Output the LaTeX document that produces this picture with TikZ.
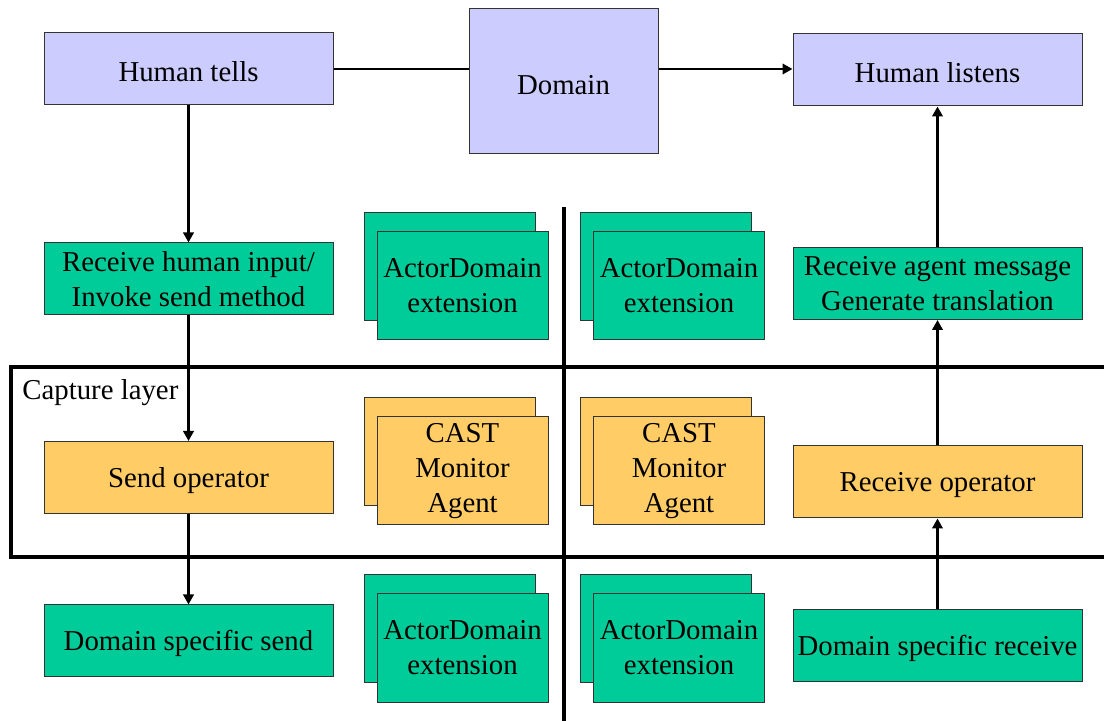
\documentclass[tikz,border=0pt]{standalone}
\usepackage{fontspec}
\setmainfont{Liberation Serif}
\usetikzlibrary{arrows.meta}
\definecolor{lav}{HTML}{CCCCFF}
\definecolor{teal}{HTML}{00CC99}
\definecolor{gold}{HTML}{FFCC66}
\definecolor{edge}{HTML}{333333}
\begin{document}
\begin{tikzpicture}[x=0.5pt,y=-0.5pt,
  box/.style={draw=edge,line width=0.5pt,inner sep=0pt,align=center,
    font=\fontsize{14.4}{17.5}\selectfont,
    execute at begin node=\rule{0pt}{13pt}},
  wide/.style={box,minimum width=144.5pt,minimum height=36pt},
  card/.style={box,minimum width=85.5pt,minimum height=54pt},
  arr/.style={line width=1.25pt,-{Triangle[length=5pt,width=5.2pt]}},
  plain/.style={line width=1.25pt},
  heavy/.style={line width=2pt}]
\path[use as bounding box] (0,0) rectangle (1104,721);

% top row
\node[wide,fill=lav] (tells) at (188.5,69) {Human tells};
\node[box,fill=lav,minimum width=94.5pt,minimum height=72.5pt] (domain) at (563.5,81.5) {Domain};
\node[wide,fill=lav] (listens) at (937.5,70) {Human listens};

% left column
\node[wide,fill=teal] (recvin) at (188.5,279) {Receive human input/\\Invoke send method};
\node[wide,fill=gold] (sendop) at (188.5,477.5) {Send operator};
\node[wide,fill=teal] (dsend) at (188.5,641) {Domain specific send};

% right column
\node[wide,fill=teal] (recvag) at (937.5,283.5) {Receive agent message\\Generate translation};
\node[wide,fill=gold] (recvop) at (937.5,482) {Receive operator};
\node[wide,fill=teal] (drecv) at (937.5,645.5) {Domain specific receive};

% stacked cards
\node[card,fill=teal] (adlb) at (449.5,267) {};
\node[card,fill=teal] (adl) at (462.5,286) {ActorDomain\\extension};
\node[card,fill=teal] (adrb) at (665.5,267) {};
\node[card,fill=teal] (adr) at (679,286) {ActorDomain\\extension};

\node[card,fill=gold] (calb) at (449.5,452) {};
\node[card,fill=gold] (cal) at (462.5,471) {CAST\\Monitor\\Agent};
\node[card,fill=gold] (carb) at (665.5,452) {};
\node[card,fill=gold] (car) at (679,471) {CAST\\Monitor\\Agent};

\node[card,fill=teal] (bdlb) at (449.5,629) {};
\node[card,fill=teal] (bdl) at (462.5,648) {ActorDomain\\extension};
\node[card,fill=teal] (bdrb) at (665.5,629) {};
\node[card,fill=teal] (bdr) at (679,648) {ActorDomain\\extension};

% capture layer frame and divider
\draw[heavy] (1110,367) -- (11,367) -- (11,557) -- (1110,557);
\node[anchor=base west,inner sep=0pt,font=\fontsize{14.4}{17.5}\selectfont] (cap) at (22,400) {Capture layer};
\coordinate (vtop) at (564,207);
\coordinate (vbot) at (564,725);
\draw[heavy] (vtop) -- (vbot);

% connectors
\draw[plain] (tells.east) -- (tells.east -| domain.west);
\draw[arr] (tells.east -| domain.east) -- (tells.east -| listens.west);
\draw[arr] (tells.south) -- (recvin.north);
\draw[arr] (recvin.south) -- (sendop.north);
\draw[arr] (sendop.south) -- (dsend.north);
\draw[arr] (drecv.north) -- (recvop.south);
\draw[arr] (recvop.north) -- (recvag.south);
\draw[arr] (recvag.north) -- (listens.south);
\end{tikzpicture}
\end{document}
